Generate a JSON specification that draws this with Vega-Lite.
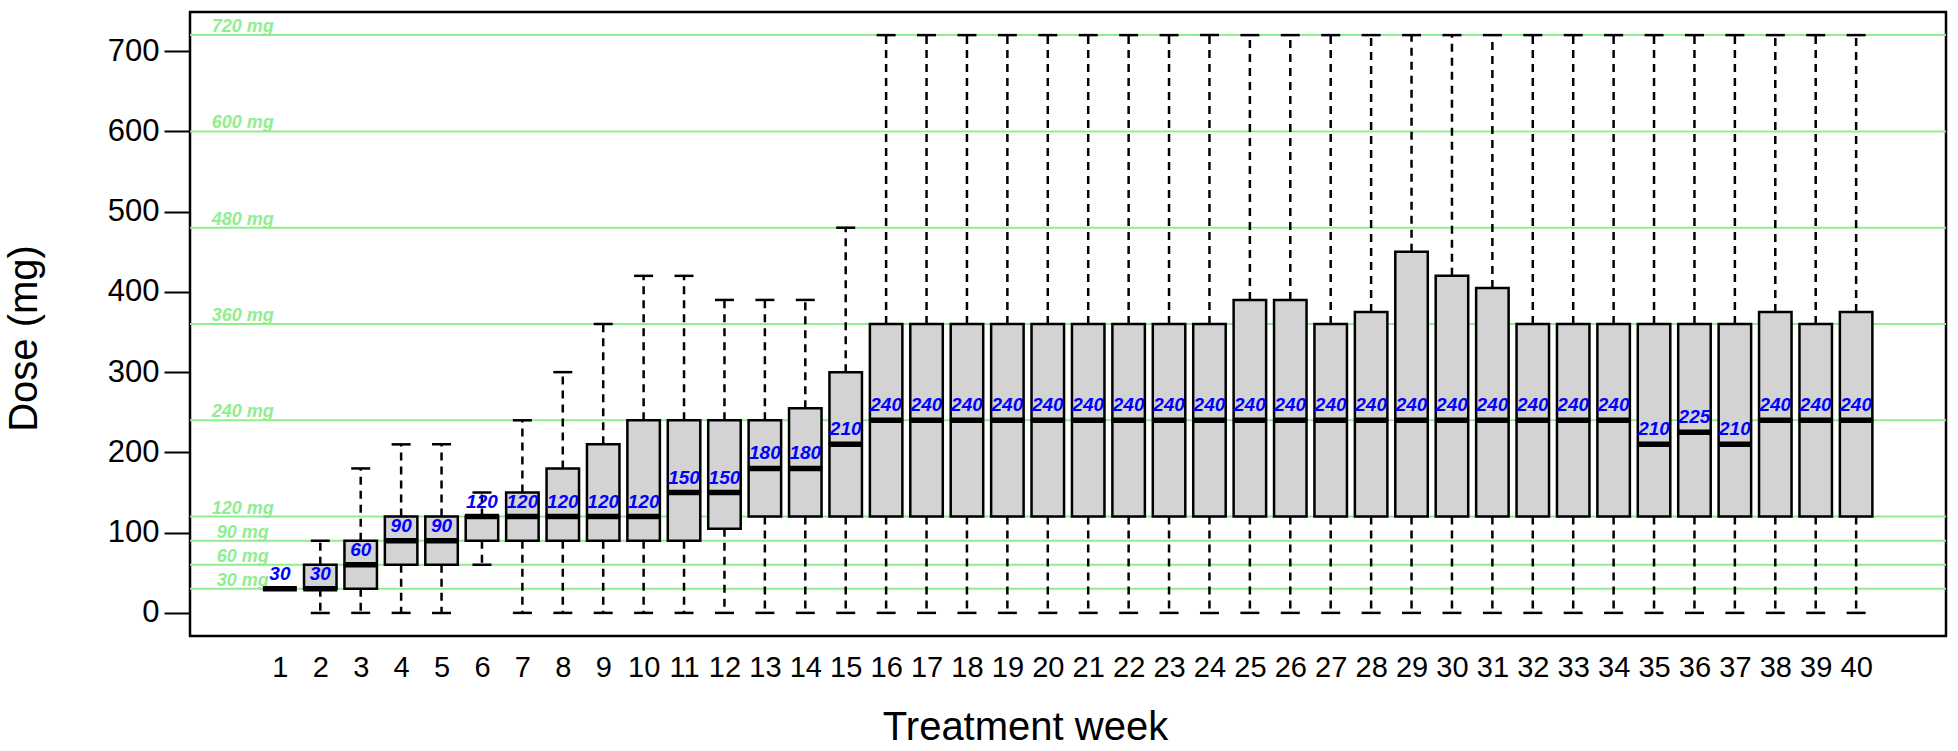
{
  "$schema": "https://vega.github.io/schema/vega-lite/v6.json",
  "width": 1756,
  "height": 624,
  "autosize": {"type": "none"},
  "padding": {"left": 190, "top": 12, "right": 12, "bottom": 115},
  "background": "white",
  "config": {
    "font": "Liberation Sans",
    "view": {"stroke": "black", "strokeWidth": 2.5}
  },
  "datasets": {
    "boxes": [
      {"week": 1, "lo": 30, "q1": 30, "med": 30, "q3": 30, "hi": 30},
      {"week": 2, "lo": 0, "q1": 30, "med": 30, "q3": 60, "hi": 90},
      {"week": 3, "lo": 0, "q1": 30, "med": 60, "q3": 90, "hi": 180},
      {"week": 4, "lo": 0, "q1": 60, "med": 90, "q3": 120, "hi": 210},
      {"week": 5, "lo": 0, "q1": 60, "med": 90, "q3": 120, "hi": 210},
      {"week": 6, "lo": 60, "q1": 90, "med": 120, "q3": 120, "hi": 150},
      {"week": 7, "lo": 0, "q1": 90, "med": 120, "q3": 150, "hi": 240},
      {"week": 8, "lo": 0, "q1": 90, "med": 120, "q3": 180, "hi": 300},
      {"week": 9, "lo": 0, "q1": 90, "med": 120, "q3": 210, "hi": 360},
      {"week": 10, "lo": 0, "q1": 90, "med": 120, "q3": 240, "hi": 420},
      {"week": 11, "lo": 0, "q1": 90, "med": 150, "q3": 240, "hi": 420},
      {"week": 12, "lo": 0, "q1": 105, "med": 150, "q3": 240, "hi": 390},
      {"week": 13, "lo": 0, "q1": 120, "med": 180, "q3": 240, "hi": 390},
      {"week": 14, "lo": 0, "q1": 120, "med": 180, "q3": 255, "hi": 390},
      {"week": 15, "lo": 0, "q1": 120, "med": 210, "q3": 300, "hi": 480},
      {"week": 16, "lo": 0, "q1": 120, "med": 240, "q3": 360, "hi": 720},
      {"week": 17, "lo": 0, "q1": 120, "med": 240, "q3": 360, "hi": 720},
      {"week": 18, "lo": 0, "q1": 120, "med": 240, "q3": 360, "hi": 720},
      {"week": 19, "lo": 0, "q1": 120, "med": 240, "q3": 360, "hi": 720},
      {"week": 20, "lo": 0, "q1": 120, "med": 240, "q3": 360, "hi": 720},
      {"week": 21, "lo": 0, "q1": 120, "med": 240, "q3": 360, "hi": 720},
      {"week": 22, "lo": 0, "q1": 120, "med": 240, "q3": 360, "hi": 720},
      {"week": 23, "lo": 0, "q1": 120, "med": 240, "q3": 360, "hi": 720},
      {"week": 24, "lo": 0, "q1": 120, "med": 240, "q3": 360, "hi": 720},
      {"week": 25, "lo": 0, "q1": 120, "med": 240, "q3": 390, "hi": 720},
      {"week": 26, "lo": 0, "q1": 120, "med": 240, "q3": 390, "hi": 720},
      {"week": 27, "lo": 0, "q1": 120, "med": 240, "q3": 360, "hi": 720},
      {"week": 28, "lo": 0, "q1": 120, "med": 240, "q3": 375, "hi": 720},
      {"week": 29, "lo": 0, "q1": 120, "med": 240, "q3": 450, "hi": 720},
      {"week": 30, "lo": 0, "q1": 120, "med": 240, "q3": 420, "hi": 720},
      {"week": 31, "lo": 0, "q1": 120, "med": 240, "q3": 405, "hi": 720},
      {"week": 32, "lo": 0, "q1": 120, "med": 240, "q3": 360, "hi": 720},
      {"week": 33, "lo": 0, "q1": 120, "med": 240, "q3": 360, "hi": 720},
      {"week": 34, "lo": 0, "q1": 120, "med": 240, "q3": 360, "hi": 720},
      {"week": 35, "lo": 0, "q1": 120, "med": 210, "q3": 360, "hi": 720},
      {"week": 36, "lo": 0, "q1": 120, "med": 225, "q3": 360, "hi": 720},
      {"week": 37, "lo": 0, "q1": 120, "med": 210, "q3": 360, "hi": 720},
      {"week": 38, "lo": 0, "q1": 120, "med": 240, "q3": 375, "hi": 720},
      {"week": 39, "lo": 0, "q1": 120, "med": 240, "q3": 360, "hi": 720},
      {"week": 40, "lo": 0, "q1": 120, "med": 240, "q3": 375, "hi": 720}
    ],
    "refs": [
      {"dose": 30, "label": "30 mg"},
      {"dose": 60, "label": "60 mg"},
      {"dose": 90, "label": "90 mg"},
      {"dose": 120, "label": "120 mg"},
      {"dose": 240, "label": "240 mg"},
      {"dose": 360, "label": "360 mg"},
      {"dose": 480, "label": "480 mg"},
      {"dose": 600, "label": "600 mg"},
      {"dose": 720, "label": "720 mg"}
    ]
  },
  "layer": [
    {
      "data": {"name": "refs"},
      "mark": {"type": "rule", "color": "#90EE90", "strokeWidth": 2},
      "encoding": {
        "y": {
          "field": "dose", "type": "quantitative",
          "scale": {"domain": [-28.8, 748.8], "nice": false, "zero": false},
          "axis": {
            "orient": "left",
            "title": "Dose (mg)",
            "values": [0, 100, 200, 300, 400, 500, 600, 700],
            "tickSize": 26, "tickWidth": 2, "tickColor": "black",
            "domain": false, "grid": false,
            "labelFontSize": 31, "labelColor": "black", "labelPadding": 5,
            "titleFontSize": 40, "titleFontWeight": "normal", "titleColor": "black",
            "titleX": -154, "titleY": 326, "titleBaseline": "alphabetic", "titleAlign": "center", "titleAngle": -90
          }
        }
      }
    },
    {
      "data": {"name": "boxes"},
      "mark": {"type": "rule", "color": "black", "strokeWidth": 2.5, "strokeDash": [8, 6]},
      "encoding": {
        "x": {
          "field": "week", "type": "quantitative",
          "scale": {"domain": [-1.1, 42.1], "nice": false, "zero": false},
          "axis": {
            "orient": "bottom",
            "title": "Treatment week",
            "values": [1, 2, 3, 4, 5, 6, 7, 8, 9, 10, 11, 12, 13, 14, 15, 16, 17, 18, 19, 20, 21, 22, 23, 24, 25, 26, 27, 28, 29, 30, 31, 32, 33, 34, 35, 36, 37, 38, 39, 40],
            "format": "d",
            "ticks": false, "domain": false, "grid": false,
            "labelAngle": 0, "labelFontSize": 29, "labelColor": "black", "labelPadding": 17,
            "labelOverlap": false, "labelFlush": false,
            "titleFontSize": 40, "titleFontWeight": "normal", "titleColor": "black",
            "titleX": 835, "titleY": 103, "titleBaseline": "alphabetic", "titleAlign": "center"
          }
        },
        "y": {"field": "q3", "type": "quantitative"},
        "y2": {"field": "hi"}
      }
    },
    {
      "data": {"name": "refs"},
      "mark": {"type": "text", "color": "#90EE90", "fontSize": 18, "fontWeight": "bold", "fontStyle": "italic", "align": "center", "baseline": "alphabetic", "dy": -3},
      "encoding": {
        "x": {"datum": 0.08, "type": "quantitative"},
        "y": {"field": "dose", "type": "quantitative"},
        "text": {"field": "label"}
      }
    },
    {
      "data": {"name": "boxes"},
      "mark": {"type": "rule", "color": "black", "strokeWidth": 2.5, "strokeDash": [8, 6]},
      "encoding": {
        "x": {"field": "week", "type": "quantitative"},
        "y": {"field": "q1", "type": "quantitative"},
        "y2": {"field": "lo"}
      }
    },
    {
      "data": {"name": "boxes"},
      "mark": {"type": "tick", "orient": "horizontal", "color": "black", "opacity": 1, "size": 19, "thickness": 2.5},
      "encoding": {
        "x": {"field": "week", "type": "quantitative"},
        "y": {"field": "hi", "type": "quantitative"}
      }
    },
    {
      "data": {"name": "boxes"},
      "mark": {"type": "tick", "orient": "horizontal", "color": "black", "opacity": 1, "size": 19, "thickness": 2.5},
      "encoding": {
        "x": {"field": "week", "type": "quantitative"},
        "y": {"field": "lo", "type": "quantitative"}
      }
    },
    {
      "data": {"name": "boxes"},
      "mark": {"type": "bar", "width": 32.5, "fill": "#D3D3D3", "stroke": "black", "strokeWidth": 2.5, "opacity": 1},
      "encoding": {
        "x": {"field": "week", "type": "quantitative"},
        "y": {"field": "q1", "type": "quantitative"},
        "y2": {"field": "q3"}
      }
    },
    {
      "data": {"name": "boxes"},
      "mark": {"type": "tick", "orient": "horizontal", "color": "black", "opacity": 1, "size": 34, "thickness": 5.5},
      "encoding": {
        "x": {"field": "week", "type": "quantitative"},
        "y": {"field": "med", "type": "quantitative"}
      }
    },
    {
      "data": {"name": "boxes"},
      "mark": {"type": "text", "color": "#0000FF", "fontSize": 19, "fontWeight": "bold", "fontStyle": "italic", "align": "center", "baseline": "alphabetic", "dy": -9},
      "encoding": {
        "x": {"field": "week", "type": "quantitative"},
        "y": {"field": "med", "type": "quantitative"},
        "text": {"field": "med"}
      }
    }
  ]
}
